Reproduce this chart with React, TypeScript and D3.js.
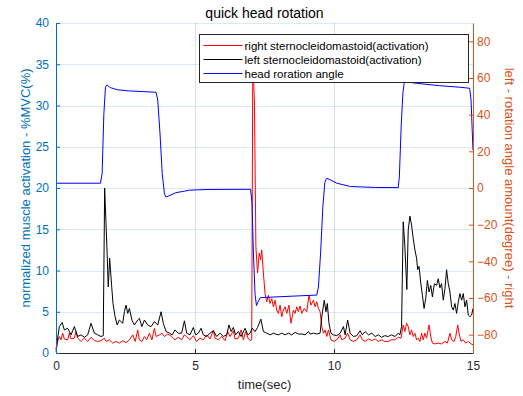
import React, { useRef, useEffect } from "react";
import * as d3 from "d3";

// [time(sec), %MVC] right sternocleidomastoid (red)
const rightScm: [number, number][] = [
  [0, 0.1], [0.06, 1.4], [0.12, 2.0], [0.18, 1.6], [0.24, 2.4], [0.3, 1.7], [0.42, 1.6], [0.48, 2.4], [0.54, 1.7],
  [0.66, 1.8], [0.72, 2.6], [0.78, 1.8], [0.9, 1.4], [1.02, 1.8], [1.14, 1.4], [1.26, 1.9], [1.38, 1.5], [1.5, 1.4],
  [1.62, 1.5], [1.74, 1.8], [1.8, 1.4], [1.92, 1.6], [2.04, 1.2], [2.16, 1.4], [2.28, 1.2], [2.4, 1.5], [2.52, 1.25],
  [2.64, 1.6], [2.76, 2.2], [2.85, 1.4], [2.94, 2.8], [3.0, 1.6], [3.09, 1.4], [3.18, 2.0], [3.26, 1.6], [3.36, 2.4],
  [3.45, 1.6], [3.54, 3.0], [3.6, 2.0], [3.72, 2.2], [3.81, 2.4], [3.9, 2.0], [4.02, 2.3], [4.16, 2.0], [4.28, 1.6],
  [4.4, 1.9], [4.52, 1.6], [4.62, 2.2], [4.7, 2.0], [4.82, 1.6], [4.94, 2.1], [5.06, 1.4], [5.18, 1.8], [5.3, 1.6],
  [5.42, 2.2], [5.54, 1.7], [5.66, 2.7], [5.72, 1.8], [5.84, 1.6], [5.96, 2.0], [6.08, 1.5], [6.18, 2.6], [6.26, 2.0],
  [6.38, 2.7], [6.44, 1.7], [6.56, 1.8], [6.66, 2.8], [6.74, 1.6], [6.82, 2.6], [6.92, 1.7], [7.01, 1.5], [7.04, 1.6],
  [7.08, 36], [7.14, 30], [7.19, 12.9], [7.25, 9.7], [7.31, 12.1], [7.36, 11.3], [7.4, 12.5], [7.46, 9.7], [7.52, 7.2],
  [7.58, 6.2], [7.64, 7.0], [7.7, 6.0], [7.76, 6.6], [7.82, 5.6], [7.88, 6.4], [7.94, 5.2], [8.0, 4.8], [8.06, 5.8],
  [8.12, 4.4], [8.18, 5.2], [8.24, 5.6], [8.3, 4.8], [8.38, 5.8], [8.45, 3.6], [8.54, 5.2], [8.6, 4.8], [8.66, 5.6],
  [8.72, 5.0], [8.78, 5.7], [8.84, 4.8], [8.93, 5.4], [9.02, 5.0], [9.1, 7.0], [9.17, 5.8], [9.26, 6.4], [9.32, 5.6],
  [9.38, 6.2], [9.44, 5.4], [9.5, 5.0], [9.56, 3.2], [9.62, 2.4], [9.68, 2.8], [9.74, 2.0], [9.8, 2.8], [9.89, 1.6],
  [10.01, 1.4], [10.13, 1.7], [10.22, 2.2], [10.28, 1.6], [10.4, 1.8], [10.49, 2.4], [10.58, 1.6], [10.7, 1.4],
  [10.82, 1.6], [10.94, 2.2], [11.02, 1.6], [11.12, 1.4], [11.24, 1.7], [11.36, 1.5], [11.48, 1.7], [11.6, 1.4],
  [11.71, 1.6], [11.83, 1.4], [11.95, 1.4], [12.07, 1.6], [12.19, 1.6], [12.31, 1.9], [12.41, 1.8], [12.49, 3.4],
  [12.55, 2.6], [12.61, 3.6], [12.67, 3.2], [12.73, 2.2], [12.79, 2.8], [12.85, 2.0], [12.91, 2.4], [12.97, 1.6],
  [13.03, 1.8], [13.09, 1.4], [13.15, 2.4], [13.21, 1.6], [13.27, 2.4], [13.33, 1.8], [13.42, 3.4], [13.48, 2.0],
  [13.54, 1.2], [13.63, 1.1], [13.75, 1.2], [13.87, 1.1], [13.99, 1.4], [14.08, 1.2], [14.17, 2.4], [14.23, 1.6],
  [14.32, 1.4], [14.38, 2.0], [14.45, 3.4], [14.51, 2.2], [14.57, 1.4], [14.65, 1.6], [14.74, 1.2], [14.83, 1.4],
  [14.93, 1.1], [15.0, 1.0],
];

// [time(sec), %MVC] left sternocleidomastoid (black)
const leftScm: [number, number][] = [
  [0, 0.4], [0.12, 3.2], [0.22, 3.7], [0.3, 2.8], [0.42, 3.0], [0.54, 2.2], [0.66, 3.2], [0.78, 2.0], [0.9, 2.2],
  [1.02, 1.9], [1.14, 2.2], [1.26, 3.6], [1.38, 2.4], [1.5, 2.2], [1.62, 2.0], [1.7, 2.1], [1.75, 20.0], [1.84, 12.0],
  [1.88, 8.0], [1.93, 11.5], [2.0, 8.2], [2.05, 6.0], [2.12, 4.5], [2.2, 3.4], [2.28, 4.0], [2.4, 3.6], [2.46, 5.0],
  [2.52, 5.8], [2.58, 4.8], [2.64, 5.4], [2.73, 4.0], [2.82, 3.4], [2.94, 4.0], [3.0, 4.2], [3.09, 3.2], [3.18, 4.0],
  [3.3, 3.4], [3.42, 3.2], [3.54, 3.8], [3.66, 3.4], [3.78, 5.0], [3.86, 3.6], [3.96, 2.6], [4.08, 2.4], [4.18, 2.2],
  [4.28, 2.8], [4.4, 2.4], [4.52, 2.4], [4.62, 3.9], [4.7, 2.4], [4.82, 2.2], [4.94, 3.1], [5.02, 2.2], [5.12, 2.4],
  [5.22, 3.0], [5.3, 2.2], [5.42, 2.0], [5.54, 2.4], [5.66, 2.7], [5.78, 2.0], [5.9, 2.4], [6.02, 2.0], [6.14, 2.2],
  [6.22, 3.4], [6.3, 2.6], [6.38, 3.1], [6.46, 2.2], [6.56, 2.6], [6.66, 2.0], [6.8, 3.0], [6.9, 2.2], [6.98, 2.4],
  [7.06, 3.0], [7.16, 2.6], [7.25, 3.1], [7.37, 4.1], [7.46, 2.6], [7.58, 2.4], [7.7, 2.2], [7.82, 2.4], [7.9, 2.3],
  [8.0, 2.2], [8.12, 2.4], [8.24, 2.2], [8.36, 2.4], [8.48, 2.2], [8.6, 2.5], [8.72, 2.3], [8.84, 2.3], [8.96, 2.2],
  [9.08, 2.6], [9.14, 2.3], [9.26, 2.4], [9.38, 2.3], [9.5, 2.4], [9.56, 4.4], [9.65, 6.4], [9.71, 5.0], [9.76, 6.0],
  [9.82, 3.6], [9.89, 2.4], [9.98, 2.2], [10.1, 2.1], [10.22, 2.4], [10.34, 3.2], [10.4, 2.2], [10.49, 4.0],
  [10.58, 2.4], [10.7, 2.0], [10.82, 2.1], [10.94, 2.7], [11.02, 2.2], [11.12, 2.6], [11.24, 2.2], [11.36, 2.4],
  [11.48, 2.0], [11.6, 2.2], [11.71, 1.9], [11.83, 2.1], [11.95, 2.0], [12.07, 2.2], [12.19, 2.0], [12.31, 2.4],
  [12.37, 2.2], [12.43, 3.2], [12.49, 15.9], [12.55, 12.9], [12.62, 7.7], [12.67, 14.9], [12.73, 16.6], [12.79, 15.5],
  [12.85, 13.9], [12.91, 12.5], [12.97, 11.5], [13.01, 10.1], [13.06, 10.5], [13.12, 8.5], [13.18, 7.0], [13.24, 5.4],
  [13.3, 6.6], [13.36, 8.8], [13.42, 7.4], [13.48, 8.2], [13.54, 6.8], [13.61, 8.4], [13.69, 8.2], [13.75, 9.0],
  [13.81, 7.9], [13.87, 8.4], [13.93, 6.4], [13.99, 7.8], [14.05, 10.1], [14.11, 8.4], [14.17, 7.4], [14.23, 5.6],
  [14.29, 5.2], [14.35, 6.0], [14.41, 4.8], [14.47, 6.2], [14.53, 7.2], [14.59, 6.4], [14.65, 7.2], [14.71, 5.6],
  [14.77, 6.4], [14.83, 4.6], [14.89, 4.4], [14.95, 4.6], [15.0, 5.4],
];

// [time(sec), degree] head rotation angle (blue, right axis)
const headAngle: [number, number][] = [
  [0, 2.6], [1.6, 2.6], [1.66, 8], [1.72, 40], [1.78, 55], [1.84, 56.2], [1.95, 54.8], [2.2, 53.6], [2.6, 53.0],
  [3.1, 52.6], [3.6, 52.2], [3.66, 48], [3.74, 30], [3.82, 8], [3.9, -3], [3.95, -4.9], [4.05, -4.4], [4.3, -2.6],
  [4.8, -1.2], [5.5, -0.8], [7.0, -0.7], [7.05, -8], [7.1, -35], [7.16, -58], [7.21, -64.2], [7.27, -62],
  [7.35, -59.8], [8.5, -59.0], [9.38, -58.4], [9.44, -54], [9.52, -35], [9.6, -10], [9.67, 3], [9.73, 5.3],
  [9.85, 4.6], [10.1, 2.6], [10.6, 0.8], [11.5, 0.3], [12.31, 0.2], [12.35, 6], [12.42, 35], [12.48, 52],
  [12.53, 58], [12.65, 57.8], [12.97, 57.1], [13.8, 55.8], [14.5, 55.0], [14.88, 54.4], [14.93, 48], [14.97, 32],
  [15.0, 20.7],
];

const legendLabels = [
  "right sternocleidomastoid(activation)",
  "left sternocleidomastoid(activation)",
  "head roration angle",
];
const legendColors = ["#ff0000", "#000000", "#0000ff"];

const xTicks = [0, 5, 10, 15];
const leftTicks = [0, 5, 10, 15, 20, 25, 30, 35, 40];
const rightTicks = [-80, -60, -40, -20, 0, 20, 40, 60, 80];

const W = 523;
const H = 396;
const FONT = "'Liberation Sans', Arial, Helvetica, sans-serif";
const LEFT_COLOR = "#0072bd";
const RIGHT_COLOR = "#d95319";

const App = () => {
  const svgRef = useRef<SVGSVGElement | null>(null);

  useEffect(() => {
    const svg = d3.select(svgRef.current);
    svg.selectAll("*").remove();

    const margin = { top: 23, right: 50, bottom: 43, left: 56 };
    const width = W - margin.left - margin.right;
    const height = H - margin.top - margin.bottom;

    const x = d3.scaleLinear().domain([0, 15]).range([0, width]);
    const yL = d3.scaleLinear().domain([0, 40]).range([height, 0]);
    const yR = d3.scaleLinear().domain([-90, 90]).range([height, 0]);

    const g = svg.append("g").attr("transform", `translate(${margin.left},${margin.top})`);

    // grid
    g.append("g")
      .selectAll("line")
      .data(leftTicks)
      .join("line")
      .attr("x1", 0)
      .attr("x2", width)
      .attr("y1", (d) => Math.round(yL(d)) + 0.5)
      .attr("y2", (d) => Math.round(yL(d)) + 0.5)
      .attr("stroke", LEFT_COLOR)
      .attr("stroke-opacity", 0.15);
    g.append("g")
      .selectAll("line")
      .data(xTicks)
      .join("line")
      .attr("x1", (d) => Math.round(x(d)) + 0.5)
      .attr("x2", (d) => Math.round(x(d)) + 0.5)
      .attr("y1", 0)
      .attr("y2", height)
      .attr("stroke", "#262626")
      .attr("stroke-opacity", 0.15);

    // series
    const lineL = d3
      .line<[number, number]>()
      .x((d) => x(d[0]))
      .y((d) => yL(d[1]));
    const lineR = d3
      .line<[number, number]>()
      .x((d) => x(d[0]))
      .y((d) => yR(d[1]));

    g.append("path").datum(rightScm).attr("d", lineL).attr("fill", "none").attr("stroke", "#ff0000").attr("stroke-width", 1);
    g.append("path").datum(leftScm).attr("d", lineL).attr("fill", "none").attr("stroke", "#000000").attr("stroke-width", 1);
    g.append("path").datum(headAngle).attr("d", lineR).attr("fill", "none").attr("stroke", "#0000ff").attr("stroke-width", 1);

    // axes
    const styleAxis = (sel, color) => {
      sel.selectAll("path").attr("stroke", color);
      sel.selectAll("line").attr("stroke", color);
      sel.selectAll("text").attr("fill", color).attr("font-size", 12).attr("font-family", FONT);
    };

    const ax = g
      .append("g")
      .attr("transform", `translate(0,${height})`)
      .call(d3.axisBottom(x).tickValues(xTicks).tickSize(-4).tickSizeOuter(0).tickPadding(8).tickFormat(d3.format("d")));
    styleAxis(ax, "#262626");

    const ayL = g
      .append("g")
      .call(d3.axisLeft(yL).tickValues(leftTicks).tickSize(-4).tickSizeOuter(0).tickPadding(7).tickFormat(d3.format("d")));
    styleAxis(ayL, LEFT_COLOR);

    const ayR = g
      .append("g")
      .attr("transform", `translate(${width},0)`)
      .call(d3.axisRight(yR).tickValues(rightTicks).tickSize(-4).tickSizeOuter(0).tickPadding(4).tickFormat(d3.format("d")));
    styleAxis(ayR, RIGHT_COLOR);

    // labels
    svg.append("text")
      .attr("x", margin.left + width / 2)
      .attr("y", 18)
      .attr("text-anchor", "middle")
      .attr("font-family", FONT)
      .attr("font-size", 14)
      .attr("fill", "#000")
      .text("quick head rotation");

    svg.append("text")
      .attr("x", margin.left + width / 2)
      .attr("y", 389)
      .attr("text-anchor", "middle")
      .attr("font-family", FONT)
      .attr("font-size", 13)
      .attr("fill", "#262626")
      .text("time(sec)");

    svg.append("text")
      .attr("transform", `translate(30,${margin.top + height / 2}) rotate(-90)`)
      .attr("text-anchor", "middle")
      .attr("font-family", FONT)
      .attr("font-size", 13)
      .attr("fill", LEFT_COLOR)
      .text("normalized muscle activation - %MVC(%)");

    svg.append("text")
      .attr("transform", `translate(505,${margin.top + height / 2}) rotate(90)`)
      .attr("text-anchor", "middle")
      .attr("font-family", FONT)
      .attr("font-size", 13)
      .attr("fill", RIGHT_COLOR)
      .text("left - rotation angle amount(degree) - right");

    // legend
    const lg = svg.append("g").attr("transform", "translate(199.5,34.5)");
    lg.append("rect").attr("width", 269).attr("height", 48).attr("fill", "#fff").attr("stroke", "#262626").attr("stroke-width", 1);
    legendLabels.forEach((label, i) => {
      const yy = 11 + i * 14;
      lg.append("line").attr("x1", 4).attr("x2", 43).attr("y1", yy).attr("y2", yy).attr("stroke", legendColors[i]);
      lg.append("text")
        .attr("x", 45)
        .attr("y", yy + 4)
        .attr("font-family", FONT)
        .attr("font-size", 11.5)
        .attr("fill", "#000")
        .text(label);
    });
  }, []);

  return (
    <svg
      ref={svgRef}
      width={W}
      height={H}
      style={{ position: "absolute", left: 0, top: 0, background: "#fff", display: "block" }}
    />
  );
};

export default App;
